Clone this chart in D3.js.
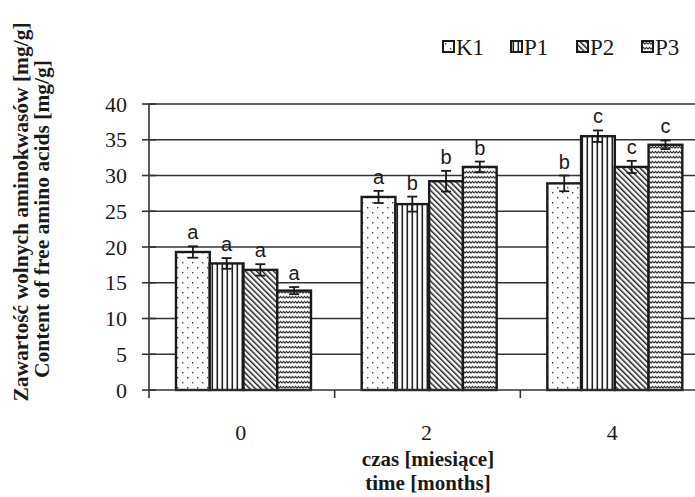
<!DOCTYPE html>
<html>
<head>
<meta charset="utf-8">
<script src="https://cdn.jsdelivr.net/npm/d3@7.9.0/dist/d3.min.js"></script>
<style>
  body { margin: 0; background: #fff; }
  svg { display: block; }
</style>
</head>
<body>
<svg id="chart" width="695" height="497"></svg>
<script>
const months = ["0", "2", "4"];
const series = ["K1", "P1", "P2", "P3"];
const values = {
    K1: [19.3, 27.0, 28.9],
    P1: [17.7, 26.0, 35.5],
    P2: [16.8, 29.2, 31.2],
    P3: [13.9, 31.2, 34.3]
};
const errors = {
    K1: [0.8, 0.85, 1.1],
    P1: [0.75, 1.05, 0.8],
    P2: [0.8, 1.45, 0.85],
    P3: [0.5, 0.75, 0.6]
};
const letters = {
    K1: ["a", "a", "b"],
    P1: ["a", "b", "c"],
    P2: ["a", "b", "c"],
    P3: ["a", "b", "c"]
};
const yTicks = [0, 5, 10, 15, 20, 25, 30, 35, 40];

const svg = d3.select("#chart");
const ink = "#222";
const serif = "Liberation Serif, Times New Roman, serif";

// fill patterns
const defs = svg.append("defs");

const dots = defs.append("pattern")
    .attr("id", "pat-K1")
    .attr("patternUnits", "userSpaceOnUse")
    .attr("width", 10)
    .attr("height", 10);
dots.append("rect").attr("width", 10).attr("height", 10).attr("fill", "#fff");
dots.append("rect").attr("x", 2).attr("y", 2).attr("width", 1.4).attr("height", 1.4).attr("fill", "#444");
dots.append("rect").attr("x", 7).attr("y", 7).attr("width", 1.4).attr("height", 1.4).attr("fill", "#444");

const vert = defs.append("pattern")
    .attr("id", "pat-P1")
    .attr("patternUnits", "userSpaceOnUse")
    .attr("width", 5)
    .attr("height", 5);
vert.append("rect").attr("width", 5).attr("height", 5).attr("fill", "#fff");
vert.append("rect").attr("x", 1.5).attr("width", 1.6).attr("height", 5).attr("fill", ink);

const diag = defs.append("pattern")
    .attr("id", "pat-P2")
    .attr("patternUnits", "userSpaceOnUse")
    .attr("width", 4)
    .attr("height", 4)
    .attr("patternTransform", "rotate(-45)");
diag.append("rect").attr("width", 4).attr("height", 4).attr("fill", "#fff");
diag.append("rect").attr("x", 1).attr("width", 1.5).attr("height", 4).attr("fill", ink);

const wave = defs.append("pattern")
    .attr("id", "pat-P3")
    .attr("patternUnits", "userSpaceOnUse")
    .attr("width", 6)
    .attr("height", 5);
wave.append("rect").attr("width", 6).attr("height", 5).attr("fill", "#fff");
wave.append("path")
    .attr("d", "M0,3.2 L1.5,1.3 L3,3.2 L4.5,1.3 L6,3.2")
    .attr("fill", "none")
    .attr("stroke", "#333")
    .attr("stroke-width", 1.1);

// scales
const y = d3.scaleLinear().domain([0, 40]).range([390, 104]);
const x = d3.scaleBand().domain(months).range([149, 706]);
const xs = d3.scaleBand().domain(series).range([27, 162]);

// gridlines
svg.append("g")
    .selectAll("line")
    .data(yTicks.filter(d => d > 0))
    .join("line")
    .attr("x1", 149)
    .attr("x2", 695)
    .attr("y1", d => y(d))
    .attr("y2", d => y(d))
    .attr("stroke", "#333")
    .attr("stroke-width", 1.3);

// bars
const rows = [];
series.forEach(s => {
    months.forEach((m, i) => {
        rows.push({ s, m, v: values[s][i], e: errors[s][i], l: letters[s][i] });
    });
});

svg.append("g")
    .selectAll("rect")
    .data(rows)
    .join("rect")
    .attr("x", d => x(d.m) + xs(d.s))
    .attr("y", d => y(d.v))
    .attr("width", xs.bandwidth())
    .attr("height", d => y(0) - y(d.v))
    .attr("fill", d => `url(#pat-${d.s})`)
    .attr("stroke", "#1a1a1a")
    .attr("stroke-width", 2.4);

// error bars
const eb = svg.append("g")
    .attr("stroke", "#1a1a1a")
    .attr("stroke-width", 1.8);
rows.forEach(d => {
    const cx = x(d.m) + xs(d.s) + xs.bandwidth() / 2;
    eb.append("line").attr("x1", cx).attr("x2", cx).attr("y1", y(d.v + d.e)).attr("y2", y(d.v - d.e));
    eb.append("line").attr("x1", cx - 5).attr("x2", cx + 5).attr("y1", y(d.v + d.e)).attr("y2", y(d.v + d.e));
    eb.append("line").attr("x1", cx - 5).attr("x2", cx + 5).attr("y1", y(d.v - d.e)).attr("y2", y(d.v - d.e));
});

// significance letters
svg.append("g")
    .selectAll("text")
    .data(rows)
    .join("text")
    .attr("x", d => x(d.m) + xs(d.s) + xs.bandwidth() / 2)
    .attr("y", d => y(d.v + d.e) - 7)
    .attr("text-anchor", "middle")
    .attr("font-family", "Liberation Sans, Arial, sans-serif")
    .attr("font-size", 20)
    .attr("fill", "#1a1a1a")
    .text(d => d.l);

// y axis
const yAxis = svg.append("g").attr("transform", "translate(149,0)");
yAxis.append("line")
    .attr("y1", y(40)).attr("y2", y(0))
    .attr("stroke", "#333").attr("stroke-width", 1.6);
yAxis.selectAll(".tk")
    .data(yTicks)
    .join("line")
    .attr("x1", -7).attr("x2", 7)
    .attr("y1", d => y(d)).attr("y2", d => y(d))
    .attr("stroke", "#333").attr("stroke-width", 1.6);
yAxis.selectAll("text")
    .data(yTicks)
    .join("text")
    .attr("x", -22)
    .attr("y", d => y(d))
    .attr("dy", "0.35em")
    .attr("text-anchor", "end")
    .attr("font-family", serif)
    .attr("font-size", 22)
    .attr("fill", "#1a1a1a")
    .text(d => d);

// x axis
const xAxis = svg.append("g");
xAxis.append("line")
    .attr("x1", 149).attr("x2", 695)
    .attr("y1", y(0)).attr("y2", y(0))
    .attr("stroke", "#333").attr("stroke-width", 1.6);
xAxis.selectAll(".tk")
    .data(months)
    .join("line")
    .attr("x1", d => x(d)).attr("x2", d => x(d))
    .attr("y1", y(0)).attr("y2", y(0) + 8)
    .attr("stroke", "#333").attr("stroke-width", 1.6);
xAxis.selectAll("text")
    .data(months)
    .join("text")
    .attr("x", d => x(d) + x.bandwidth() / 2 - 1)
    .attr("y", 440)
    .attr("text-anchor", "middle")
    .attr("font-family", serif)
    .attr("font-size", 22)
    .attr("fill", "#1a1a1a")
    .text(d => d);

// axis titles
svg.append("text")
    .attr("x", 428).attr("y", 466)
    .attr("text-anchor", "middle")
    .attr("font-family", serif).attr("font-weight", "bold")
    .attr("font-size", 21).attr("fill", "#1a1a1a")
    .text("czas [miesiące]");
svg.append("text")
    .attr("x", 428).attr("y", 490)
    .attr("text-anchor", "middle")
    .attr("font-family", serif).attr("font-weight", "bold")
    .attr("font-size", 21).attr("fill", "#1a1a1a")
    .text("time [months]");

svg.append("text")
    .attr("transform", "translate(28,212) rotate(-90)")
    .attr("text-anchor", "middle")
    .attr("font-family", serif).attr("font-weight", "bold")
    .attr("font-size", 21.5).attr("fill", "#1a1a1a")
    .text("Zawartość wolnych aminokwasów [mg/g]");
svg.append("text")
    .attr("transform", "translate(49,219) rotate(-90)")
    .attr("text-anchor", "middle")
    .attr("font-family", serif).attr("font-weight", "bold")
    .attr("font-size", 21.5).attr("fill", "#1a1a1a")
    .text("Content of free amino acids [mg/g]");

// legend
const legendX = [443, 511, 577, 642];
const legend = svg.append("g")
    .selectAll("g")
    .data(series)
    .join("g")
    .attr("transform", (d, i) => `translate(${legendX[i]},41)`);
legend.append("rect")
    .attr("width", 11).attr("height", 11)
    .attr("fill", d => `url(#pat-${d})`)
    .attr("stroke", "#1a1a1a").attr("stroke-width", 2);
legend.append("text")
    .attr("x", 13).attr("y", 14)
    .attr("font-family", serif)
    .attr("font-size", 23).attr("fill", "#1a1a1a")
    .text(d => d);
</script>
</body>
</html>
